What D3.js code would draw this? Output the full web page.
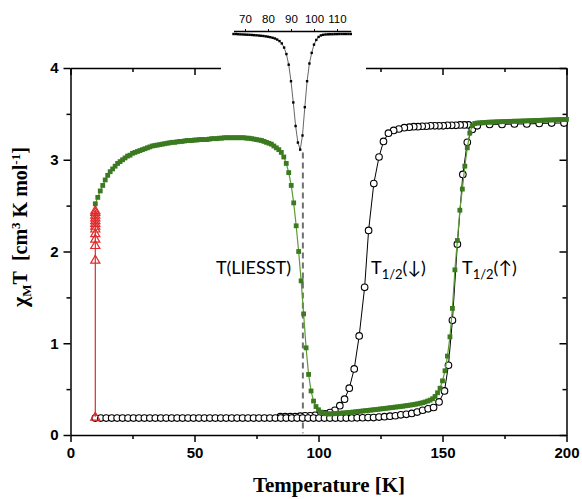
<!DOCTYPE html>
<html><head><meta charset="utf-8">
<script src="https://cdn.jsdelivr.net/npm/d3@7"></script>
<style>body{margin:0;background:#fff}svg{display:block}</style>
</head><body>
<svg id="c" width="582" height="499"></svg>
<script>
// ---- data ----
const xMajor = [0, 50, 100, 150, 200];
const xMinor = [25, 75, 125, 175];
const yMajor = [0, 1, 2, 3, 4];
const yMinor = [0.5, 1.5, 2.5, 3.5];
const insetTicks = [70, 80, 90, 100, 110];
const tLiesst = 93.7;

// LIESST relaxation + heating (green squares): [T, chiMT]
const greenData = [[10,2.52],[11,2.59],[12,2.66],[13,2.72],[14,2.78],[15,2.83],[16,2.87],[17,2.90],[18,2.93],[19,2.96],[20,2.98],[21,3.00],[22,3.02],[23,3.04],[24,3.05],[25,3.07],[26,3.08],[27,3.09],[28,3.10],[29,3.11],[30,3.12],[31,3.13],[32,3.14],[33,3.15],[34,3.155],[35,3.16],[36,3.165],[37,3.17],[38,3.175],[39,3.18],[40,3.185],[41,3.19],[42,3.19],[43,3.195],[44,3.20],[45,3.20],[46,3.205],[47,3.21],[48,3.21],[49,3.21],[50,3.215],[51,3.215],[52,3.22],[53,3.22],[54,3.22],[55,3.22],[56,3.225],[57,3.23],[58,3.23],[59,3.23],[60,3.235],[61,3.235],[62,3.24],[63,3.24],[64,3.24],[65,3.24],[66,3.24],[67,3.24],[68,3.24],[69,3.24],[70,3.24],[71,3.235],[72,3.235],[73,3.23],[74,3.225],[75,3.22],[76,3.215],[77,3.21],[78,3.20],[79,3.19],[80,3.18],[81,3.17],[82,3.15],[83,3.13],[84,3.11],[85,3.08],[86,3.03],[87,2.96],[88,2.86],[89,2.72],[90,2.53],[91,2.28],[92,2.00],[93,1.68],[94,1.32],[95,0.95],[96,0.66],[97,0.48],[98,0.37],[99,0.31],[100,0.275],[101,0.25],[102,0.238],[103,0.232],[104,0.23],[105,0.23],[106,0.232],[107,0.234],[108,0.236],[109,0.238],[110,0.24],[111,0.242],[112,0.245],[113,0.247],[114,0.25],[115,0.253],[116,0.256],[117,0.259],[118,0.262],[119,0.265],[120,0.268],[121,0.271],[122,0.274],[123,0.277],[124,0.28],[125,0.284],[126,0.287],[127,0.29],[128,0.294],[129,0.297],[130,0.30],[131,0.304],[132,0.307],[133,0.31],[134,0.314],[135,0.318],[136,0.322],[137,0.326],[138,0.33],[139,0.335],[140,0.34],[141,0.346],[142,0.352],[143,0.36],[144,0.37],[145,0.38],[146,0.395],[147,0.42],[148,0.46],[149,0.51],[150,0.59],[151,0.70],[152,0.86],[153,1.07],[154,1.38],[155,1.80],[156,2.12],[157,2.45],[158,2.68],[159,2.93],[160,3.13],[161,3.29],[162,3.37],[163,3.395],[164,3.40],[165,3.402],[166,3.404],[167,3.406],[168,3.408],[169,3.41],[170,3.41],[171,3.412],[172,3.413],[173,3.414],[174,3.415],[175,3.416],[176,3.417],[177,3.418],[178,3.419],[179,3.42],[180,3.42],[181,3.421],[182,3.422],[183,3.423],[184,3.424],[185,3.425],[186,3.426],[187,3.427],[188,3.428],[189,3.429],[190,3.43],[191,3.431],[192,3.432],[193,3.433],[194,3.434],[195,3.435],[196,3.436],[197,3.437],[198,3.438],[199,3.439],[200,3.44]];

// thermal cycle, cooling branch (open circles)
const coolData = [[199,3.40],[194,3.40],[189,3.395],[184,3.39],[179,3.39],[174,3.385],[169,3.385],[164,3.38],[160.5,3.38],[158.8,3.38],[157.1,3.38],[155.4,3.375],[153.7,3.375],[152,3.375],[150.3,3.37],[148.6,3.37],[146.9,3.37],[145.2,3.37],[143.5,3.365],[141.8,3.365],[140.1,3.36],[138.4,3.36],[136.6,3.355],[134.6,3.35],[132.4,3.335],[130.3,3.32],[128.2,3.29],[126.2,3.20],[124.4,3.03],[122.3,2.74],[120.2,2.23],[118.6,1.61],[116.4,1.08],[114.4,0.72],[112.4,0.51],[110.5,0.39],[108.6,0.32],[106.6,0.27],[104.6,0.245],[102.6,0.23],[100.6,0.22],[98.6,0.215],[96.6,0.21],[94.6,0.21],[92.6,0.205],[90.6,0.2],[88.6,0.2],[86.6,0.2],[84.6,0.2]];

// thermal cycle, heating branch (open circles)
const heatData = [[10,0.185],[12.2,0.185],[14.4,0.185],[16.6,0.185],[18.8,0.185],[21,0.185],[23.2,0.185],[25.4,0.185],[27.6,0.185],[29.8,0.185],[32,0.185],[34.2,0.185],[36.4,0.185],[38.6,0.185],[40.8,0.185],[43,0.185],[45.2,0.185],[47.4,0.185],[49.6,0.185],[51.8,0.185],[54,0.185],[56.2,0.185],[58.4,0.185],[60.6,0.185],[62.8,0.185],[65,0.185],[67.2,0.185],[69.4,0.185],[71.6,0.185],[73.8,0.185],[76,0.185],[78.2,0.185],[80.4,0.185],[82.6,0.185],[84.8,0.185],[87,0.185],[89.2,0.185],[91.4,0.185],[93.6,0.185],[95.8,0.185],[98,0.185],[100.2,0.185],[102.4,0.185],[104.6,0.185],[106.8,0.185],[109,0.185],[111.2,0.185],[113.4,0.186],[115.6,0.187],[117.8,0.188],[120,0.19],[122.2,0.19],[124.4,0.195],[126.6,0.2],[128.8,0.205],[131,0.21],[133.2,0.22],[135.4,0.225],[137.6,0.235],[139.8,0.25],[142,0.27],[144.2,0.285],[146.4,0.30],[148.6,0.36],[150.8,0.48],[152.4,0.76],[154,1.25],[156,2.08],[158.2,2.84],[160,3.19],[162,3.33],[164,3.37]];

// irradiation at 10 K (red triangles)
const irrData = [[10,0.2],[10,1.91],[10,2.07],[10,2.14],[10,2.20],[10,2.25],[10,2.28],[10,2.31],[10,2.34],[10,2.37],[10,2.40],[10,2.43],[10,2.45]];

// inset: derivative curve around T(LIESST)
const insetData = [[65,0],[66,0],[67,-0.002],[68,-0.003],[69,-0.004],[70,-0.005],[71,-0.006],[72,-0.007],[73,-0.008],[74,-0.01],[75,-0.011],[76,-0.013],[77,-0.015],[78,-0.017],[79,-0.02],[80,-0.023],[81,-0.027],[82,-0.032],[83,-0.038],[84,-0.047],[85,-0.06],[86,-0.08],[87,-0.115],[88,-0.17],[89,-0.26],[90,-0.40],[91,-0.58],[92,-0.78],[93,-0.92],[94,-0.98],[95,-0.86],[96,-0.62],[97,-0.40],[98,-0.25],[99,-0.16],[100,-0.09],[101,-0.05],[102,-0.025],[103,-0.012],[104,-0.007],[105,-0.004],[106,-0.003],[107,-0.002],[108,-0.002],[109,-0.001],[110,-0.001],[111,0],[112,0],[113,0],[114,0],[115,0],[116,0]];

// ---- drawing ----
const svg = d3.select('#c');
svg.append('rect').attr('width',582).attr('height',499).attr('fill','#fff');
const x = d3.scaleLinear().domain([0,200]).range([70.5,566.5]);
const y = d3.scaleLinear().domain([0,4]).range([435,68]);
const GREEN = '#3b7a1f', GREEN_L = '#5c9b35', RED = '#e02a2a';
const fmt = d3.format('d');

function styleAxis(g){
  g.selectAll('path.domain').attr('stroke','#000').attr('stroke-width',1.5);
  g.selectAll('.tick line').attr('stroke','#000').attr('stroke-width',1.5);
  g.selectAll('.tick text').attr('font-family','"Liberation Sans", Arial, sans-serif')
    .attr('font-weight','bold').attr('font-size',15).attr('fill','#000');
}
const ax = svg.append('g');
ax.append('g').attr('transform','translate(0,435)')
  .call(d3.axisBottom(x).tickValues(xMajor).tickFormat(fmt).tickSize(7).tickSizeOuter(0).tickPadding(5)).call(styleAxis);
ax.append('g').attr('transform','translate(0,435)')
  .call(d3.axisBottom(x).tickValues(xMinor).tickSize(4).tickFormat('')).call(g=>g.select('.domain').remove()).call(styleAxis);
ax.append('g').attr('transform','translate(70.5,0)')
  .call(d3.axisLeft(y).tickValues(yMajor).tickFormat(fmt).tickSize(7).tickSizeOuter(0).tickPadding(5)).call(styleAxis);
ax.append('g').attr('transform','translate(70.5,0)')
  .call(d3.axisLeft(y).tickValues(yMinor).tickSize(4).tickFormat('')).call(g=>g.select('.domain').remove()).call(styleAxis);
ax.append('g').attr('transform','translate(566.5,0)')
  .call(d3.axisLeft(y).tickValues(yMajor).tickSize(7).tickSizeOuter(0).tickFormat('')).call(styleAxis);
ax.append('g').attr('transform','translate(566.5,0)')
  .call(d3.axisLeft(y).tickValues(yMinor).tickSize(4).tickFormat('')).call(g=>g.select('.domain').remove()).call(styleAxis);
ax.append('g').attr('transform','translate(0,68)')
  .call(d3.axisBottom(x).tickValues(xMajor).tickSize(7).tickSizeOuter(0).tickFormat('')).call(styleAxis);
ax.append('g').attr('transform','translate(0,68)')
  .call(d3.axisBottom(x).tickValues(xMinor).tickSize(4).tickFormat('')).call(g=>g.select('.domain').remove()).call(styleAxis);
// gap in top frame behind the inset
svg.append('rect').attr('x',221).attr('y',60).attr('width',145).attr('height',16).attr('fill','#fff');

// dashed T(LIESST) marker
svg.append('line').attr('x1',x(tLiesst)).attr('x2',x(tLiesst)).attr('y1',y(3.08)).attr('y2',y(0.02))
  .attr('stroke','#707070').attr('stroke-width',2).attr('stroke-dasharray','6,4');

const line = d3.line().x(d=>x(d[0])).y(d=>y(d[1]));

// circles (thermal cycle)
[coolData, heatData].forEach(data=>{
  svg.append('path').datum(data).attr('d',line).attr('fill','none').attr('stroke','#000').attr('stroke-width',1);
});
[coolData, heatData].forEach(data=>{
  svg.append('g').selectAll('circle').data(data).join('circle')
    .attr('cx',d=>x(d[0])).attr('cy',d=>y(d[1])).attr('r',3.3)
    .attr('fill','#fff').attr('stroke','#000').attr('stroke-width',1.1);
});

// green LIESST curve
svg.append('path').datum(greenData).attr('d',line).attr('fill','none').attr('stroke',GREEN_L).attr('stroke-width',1.2);
svg.append('g').selectAll('rect').data(greenData).join('rect')
  .attr('x',d=>x(d[0])-2.4).attr('y',d=>y(d[1])-2.4).attr('width',4.8).attr('height',4.8).attr('fill',GREEN);

// red irradiation
svg.append('path').datum(irrData).attr('d',line).attr('fill','none').attr('stroke',RED).attr('stroke-width',1.2);
const tri = d3.symbol().type(d3.symbolTriangle).size(36);
svg.append('g').selectAll('path').data(irrData).join('path')
  .attr('transform',d=>`translate(${x(d[0])},${y(d[1])+0.8})`).attr('d',tri)
  .attr('fill','none').attr('stroke',RED).attr('stroke-width',1.2);

// labels
const lblFont = 'Lato, "Open Sans", sans-serif';
svg.append('text').attr('x',291).attr('y',274).attr('text-anchor','end')
  .attr('font-family',lblFont).attr('font-size',18).text('T(LIESST)');
function half(xp, arrow){
  const t = svg.append('text').attr('x',xp).attr('y',274).attr('font-family',lblFont).attr('font-size',18);
  t.append('tspan').text('T');
  t.append('tspan').attr('font-size',13).attr('dy',5).text('1/2');
  t.append('tspan').attr('dy',-5).text('(' + arrow + ')');
}
half(371,'↓');
half(462,'↑');

// axis titles
svg.append('text').attr('x',329).attr('y',492).attr('text-anchor','middle')
  .attr('font-family','"Liberation Serif", "Times New Roman", serif').attr('font-weight','bold').attr('font-size',21)
  .text('Temperature [K]');
const yt = svg.append('text').attr('transform','translate(27,227) rotate(-90)').attr('text-anchor','middle')
  .attr('font-family','"Liberation Serif", "Times New Roman", serif').attr('font-weight','bold').attr('font-size',20);
yt.append('tspan').attr('font-size',22).text('χ');
yt.append('tspan').attr('font-size',13).attr('dy',4).text('M');
yt.append('tspan').attr('dy',-4).text('T\u00A0\u00A0[cm');
yt.append('tspan').attr('font-size',13).attr('dy',-7).text('3');
yt.append('tspan').attr('dy',7).text('\u00A0K mol');
yt.append('tspan').attr('font-size',13).attr('dy',-7).text('-1');
yt.append('tspan').attr('dy',7).text(']');

// inset
const ix = d3.scaleLinear().domain([65,116]).range([233.5,350.8]);
const iy = d3.scaleLinear().domain([-1,0]).range([152,34]);
const ig = svg.append('g');
ig.append('g').attr('transform','translate(0,31)')
  .call(d3.axisTop(ix).tickValues(insetTicks).tickSize(2).tickSizeOuter(0).tickPadding(6))
  .call(g=>{
    g.select('.domain').attr('stroke','#000').attr('stroke-width',1.3);
    g.selectAll('.tick line').attr('stroke','#000');
    g.selectAll('.tick text').attr('font-family','"Liberation Sans", Arial, sans-serif').attr('font-size',11.5).attr('fill','#000');
  });
ig.append('path').datum(insetData).attr('d',d3.line().x(d=>ix(d[0])).y(d=>iy(d[1])))
  .attr('fill','none').attr('stroke','#555').attr('stroke-width',0.9);
ig.selectAll('rect').data(insetData).join('rect')
  .attr('x',d=>ix(d[0])-1.2).attr('y',d=>iy(d[1])-1.2).attr('width',2.4).attr('height',2.4).attr('fill','#000');
</script>
</body></html>
